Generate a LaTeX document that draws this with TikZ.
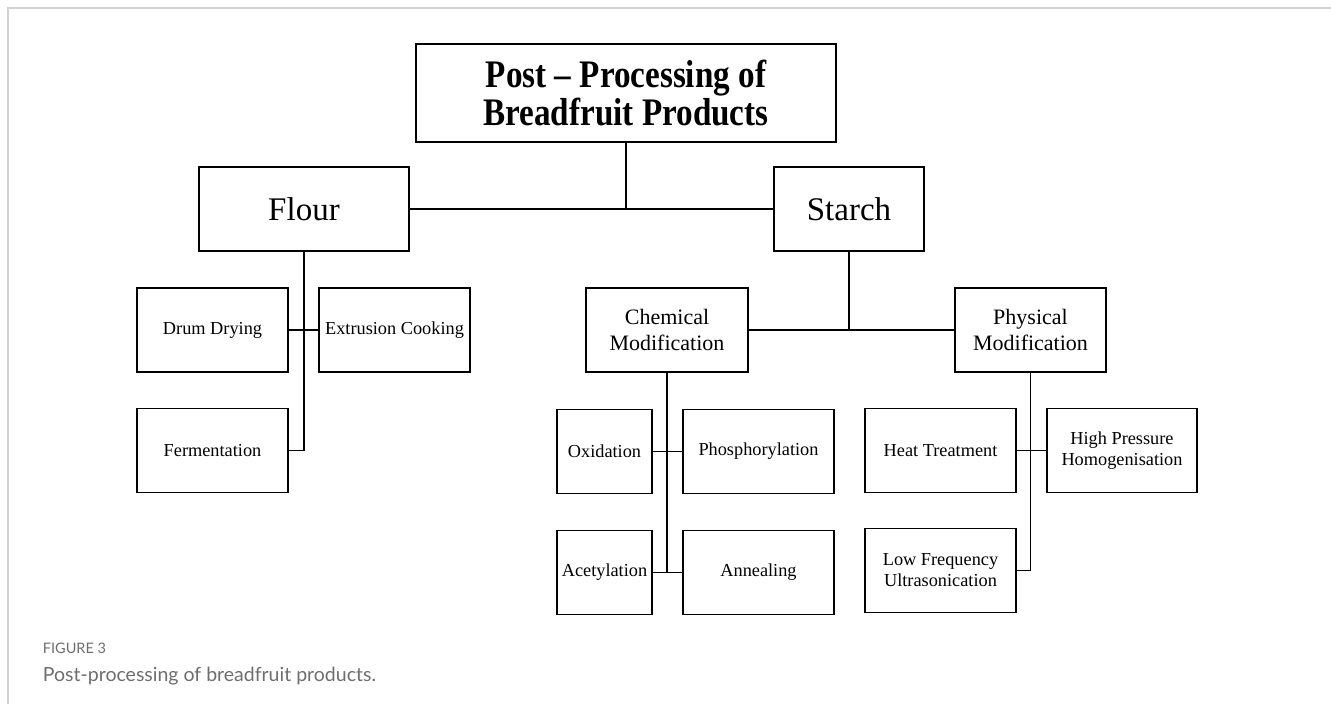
\documentclass[tikz,border=0pt]{standalone}
\usepackage{fontspec}
\usepackage{xcolor}
\usepackage{tikz}
\setmainfont{Liberation Serif}
\newfontfamily\titlefont{Liberation Serif}[FakeStretch=0.85]
\newfontfamily\capfont{Lato}
\definecolor{framegray}{HTML}{D2D2D2}
\definecolor{capgray}{HTML}{6E6E6E}

\begin{document}
\begin{tikzpicture}[x=1pt, y=-1pt, line width=1.8pt,
    box/.style={draw, rectangle, align=center, inner sep=0pt,
      minimum width=151pt, minimum height=84pt,
      font=\fontsize{18.3}{21}\selectfont},
    modbox/.style={box, font=\fontsize{22}{26}\selectfont},
    bigbox/.style={box, font=\fontsize{33}{40}\selectfont}]
  \useasboundingbox (0,0) rectangle (1331,704);
  % Rámeček
  \draw[framegray, line width=2pt] (8,704) -- (8,7.5) -- (1331,7.5);

  % Hlavní uzel
  \node[box, minimum width=420pt, minimum height=98pt,
    font=\titlefont\bfseries\fontsize{39}{36}\selectfont] (title) at (626,93)
    {Post \textendash{} Processing of\\Breadfruit Products};
  \node[bigbox, minimum width=210pt] (flour) at (304,209) {Flour};
  \node[bigbox, minimum width=150pt] (starch) at (849,209) {Starch};
  \draw (title.south) -- (title.south |- flour.east);
  \draw (flour.east) -- (starch.west);

  % Mouka
  \node[box] (drum) at (212.5,330) {Drum Drying};
  \node[box] (extr) at (394.5,330) {Extrusion Cooking};
  \node[box] (ferm) at (212.5,450.5) {Fermentation};
  \draw (flour.south) -- (flour.south |- ferm.east) -- (ferm.east);
  \draw (drum.east) -- (extr.west);

  % Škrob
  \node[modbox, minimum width=162pt] (chem) at (667,330) {Chemical\\Modification};
  \node[modbox] (phys) at (1030.5,330) {Physical\\Modification};
  \draw (starch.south) -- (starch.south |- chem.east);
  \draw (chem.east) -- (phys.west);

  % Chemická modifikace
  \node[box, minimum width=95pt] (oxid) at (604.5,451.5) {Oxidation};
  \node[box] (phos) at (758.5,451.5) {Phosphorylation};
  \node[box, minimum width=95pt] (acet) at (604.5,572.5) {Acetylation};
  \node[box] (anne) at (758.5,572.5) {Annealing};
  \draw (chem.south) -- (chem.south |- acet.east);
  \draw (oxid.east) -- (phos.west);
  \draw (acet.east) -- (anne.west);

  % Fyzikální modifikace
  \node[box] (heat) at (940.5,450.5) {Heat Treatment};
  \node[box, minimum width=150pt] (hpress) at (1122,450.5) {High Pressure\\Homogenisation};
  \node[box] (lowf) at (940.5,570.5) {Low Frequency\\Ultrasonication};
  \draw (phys.south) -- (phys.south |- lowf.east) -- (lowf.east);
  \draw (heat.east) -- (hpress.west);

  % Popisek
  \node[anchor=base west, inner sep=0pt, capgray,
    font=\capfont\fontsize{14.5}{16}\selectfont] (fignum) at (42,653) {FIGURE 3};
  \node[anchor=base west, inner sep=0pt, capgray,
    font=\capfont\fontsize{19.5}{22}\selectfont] (figcap) at (42,681)
    {Post-processing of breadfruit products.};
\end{tikzpicture}
\end{document}
